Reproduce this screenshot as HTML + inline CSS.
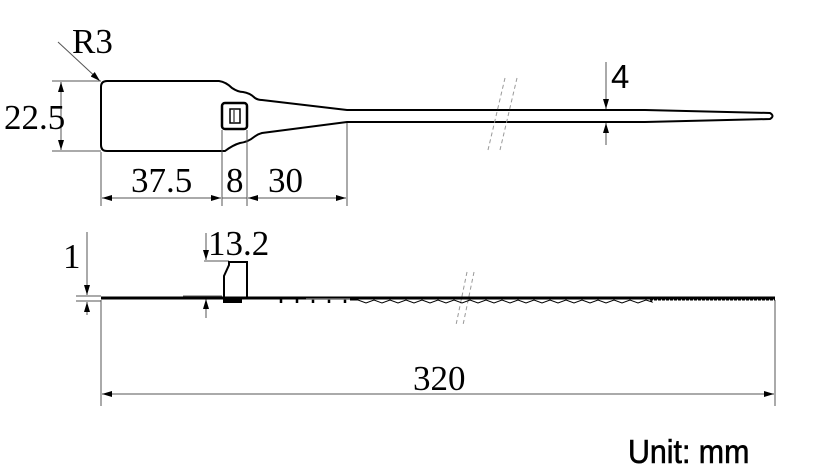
<!DOCTYPE html>
<html><head><style>body{margin:0;background:#fff}svg{display:block}</style></head><body>
<svg width="813" height="474" viewBox="0 0 813 474" xmlns="http://www.w3.org/2000/svg">
<defs>
<marker id="a" viewBox="0 0 10 6" refX="10" refY="3" markerWidth="10" markerHeight="6" orient="auto" markerUnits="userSpaceOnUse"><path d="M0,0L10,3L0,6z" fill="#000"/></marker>
</defs>
<g fill="none" stroke="#000">
<path stroke-width="2" d="M107,81 H219 Q226,82 232,88 Q238,92 243,92 Q250,93 255,98 Q258,100 262,100 L347,110 H645 L770,113 Q775,116 770,119 L645,122 H347 L262,133 Q258,134 254,137 Q248,142 240,143 Q233,145 225,151 H107 Q101,151 101,145 V87 Q101,81 107,81 Z"/>
<rect x="222" y="103" width="25" height="26" rx="3" stroke-width="2.5"/>
<rect x="230" y="109" width="10" height="14" stroke-width="1.5"/>
<line x1="234" y1="110" x2="234" y2="122" stroke-width="1"/>
</g>
<g stroke="#999" stroke-width="1" stroke-dasharray="4,3">
<line x1="505" y1="78" x2="488" y2="150"/><line x1="517" y1="78" x2="500" y2="150"/>
<line x1="467" y1="272" x2="456" y2="325"/><line x1="474" y1="272" x2="463" y2="325"/>
</g>
<g stroke="#555" stroke-width="1" fill="none">
<line x1="58" y1="42" x2="100" y2="81" marker-end="url(#a)"/>
<line x1="52" y1="81" x2="101" y2="81"/><line x1="52" y1="151" x2="101" y2="151"/>
<line x1="61" y1="115" x2="61" y2="82" marker-end="url(#a)"/><line x1="61" y1="115" x2="61" y2="150" marker-end="url(#a)"/>
<line x1="101" y1="152" x2="101" y2="206"/><line x1="222" y1="130" x2="222" y2="206"/>
<line x1="247" y1="130" x2="247" y2="206"/><line x1="347" y1="123" x2="347" y2="206"/>
<line x1="160" y1="198" x2="102" y2="198" marker-end="url(#a)"/><line x1="160" y1="198" x2="221" y2="198" marker-end="url(#a)"/>
<line x1="222" y1="198" x2="247" y2="198"/>
<line x1="300" y1="198" x2="248" y2="198" marker-end="url(#a)"/><line x1="300" y1="198" x2="346" y2="198" marker-end="url(#a)"/>
<line x1="606" y1="62" x2="606" y2="109" marker-end="url(#a)"/><line x1="606" y1="145" x2="606" y2="123" marker-end="url(#a)"/>
<line x1="76" y1="296" x2="101" y2="296"/><line x1="76" y1="301" x2="101" y2="301"/>
<line x1="87" y1="232" x2="87" y2="295" marker-end="url(#a)"/><line x1="87" y1="315" x2="87" y2="302" marker-end="url(#a)"/>
<line x1="204" y1="261" x2="229" y2="261"/>
<line x1="206" y1="233" x2="206" y2="260" marker-end="url(#a)"/><line x1="206" y1="318" x2="206" y2="299" marker-end="url(#a)"/>
<line x1="183" y1="296" x2="222" y2="296"/>
<line x1="101" y1="300" x2="101" y2="406"/><line x1="775" y1="300" x2="775" y2="406"/>
<line x1="438" y1="394" x2="102" y2="394" marker-end="url(#a)"/><line x1="438" y1="394" x2="774" y2="394" marker-end="url(#a)"/>
</g>
<g fill="none" stroke="#000">
<line x1="101" y1="298" x2="775" y2="298" stroke-width="3"/>
<path d="M224,298 V276 L229,265 V262 H247 V298" stroke-width="2"/>
<rect x="223" y="298" width="19" height="5" fill="#000" stroke="none"/>
<path d="M281,299 v4 M297,299 v4 M313,299 v4 M329,299 v4 M345,299 v4" stroke-width="2.5"/>
<line x1="306" y1="299" x2="350" y2="299" stroke="#777" stroke-width="1.5"/>
<path stroke-width="1" d="M350,300 H358 l8,3 l8,-3 l8,3 l8,-3 l8,3 l8,-3 l8,3 l8,-3 l8,3 l8,-3 l8,3 l8,-3 l8,3 l8,-3 l8,3 l8,-3 l8,3 l8,-3 l8,3 l8,-3 l8,3 l8,-3 l8,3 l8,-3 l8,3 l8,-3 l8,3 l8,-3 l8,3 l8,-3 l8,3 l8,-3 l8,3 l8,-3 l8,3 l8,-3 l6,2 L650,299"/>
<line x1="650" y1="299.5" x2="775" y2="299.5" stroke-width="2" stroke-dasharray="3,1"/>
</g>
<g font-family="'Liberation Serif',serif" font-size="35" fill="#000">
<text x="72" y="53">R3</text>
<text x="4" y="129">22.5</text>
<text x="131" y="192">37.5</text>
<text x="226" y="192">8</text>
<text x="268" y="192">30</text>
<text x="63" y="268">1</text>
<text x="208" y="255">13.2</text>
<text x="413" y="390">320</text>
</g>
<g font-family="'Liberation Sans',sans-serif" fill="#000">
<text x="611" y="88" font-size="33">4</text>
<text x="628" y="463" font-size="33" stroke="#000" stroke-width="0.6" transform="translate(628,0) scale(0.92,1) translate(-628,0)">Unit: mm</text>
</g>
</svg>
</body></html>
